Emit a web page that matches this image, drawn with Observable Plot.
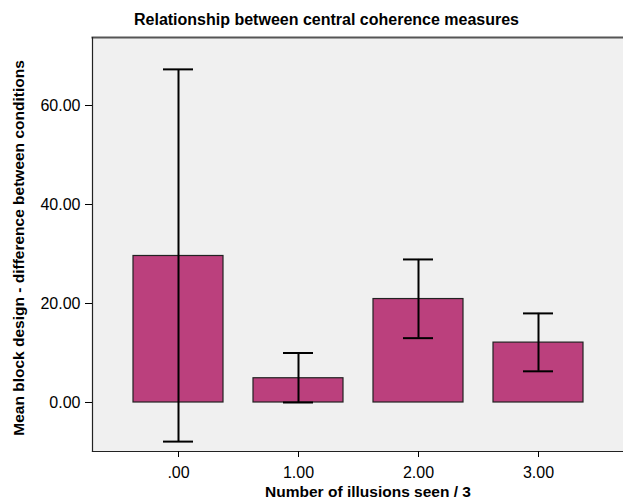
<!DOCTYPE html>
<html>
<head>
<meta charset="utf-8">
<script src="https://cdn.jsdelivr.net/npm/d3@7"></script>
<script src="https://cdn.jsdelivr.net/npm/@observablehq/plot@0.6"></script>
<style>
  html, body { margin: 0; padding: 0; background: #fff; }
  svg { display: block; }
</style>
</head>
<body>
<div id="chart"></div>
<script>
const categories = [".00", "1.00", "2.00", "3.00"];
const means = [29.6, 4.9, 20.9, 12.1];
const upper = [67.3, 10.0, 28.9, 18.0];
const lower = [-7.9, 0.0, 13.0, 6.3];
const yTicks = [0, 20, 40, 60];

const data = categories.map((c, i) => ({cat: c, mean: means[i], hi: upper[i], lo: lower[i]}));

const font = "'Liberation Sans', Arial, sans-serif";
const chart = Plot.plot({
  width: 623,
  height: 501,
  marginLeft: 92,
  marginRight: 0,
  marginTop: 37,
  marginBottom: 50,
  style: {fontFamily: font, fontSize: "16px", color: "#000", background: "#fff"},
  x: {domain: categories, paddingInner: 0.25, paddingOuter: 0.125, insetLeft: 26, insetRight: 25, label: null},
  y: {domain: [-9.9, 73.74], label: null},
  marks: [
    Plot.frame({fill: "#f0f0f0", stroke: "none"}),
    Plot.barY(data, {x: "cat", y: "mean", fill: "#bb407d", stroke: "#222", strokeWidth: 1.2}),
    Plot.ruleX(data, {x: "cat", y1: "lo", y2: "hi", stroke: "#000", strokeWidth: 2}),
    Plot.tickY(data, {x: "cat", y: "hi", stroke: "#000", strokeWidth: 2, insetLeft: 30, insetRight: 30}),
    Plot.tickY(data, {x: "cat", y: "lo", stroke: "#000", strokeWidth: 2, insetLeft: 30, insetRight: 30}),
    Plot.frame({anchor: "top", stroke: "#555", strokeWidth: 2}),
    Plot.frame({anchor: "left", stroke: "#222", strokeWidth: 1.2}),
    Plot.frame({anchor: "bottom", stroke: "#222", strokeWidth: 1.2}),
    Plot.axisY({ticks: yTicks, tickFormat: d3.format(".2f"), tickSize: 7, tickPadding: 5, fontSize: 16, label: null}),
    Plot.axisX({tickSize: 6, tickPadding: 9, fontSize: 16, label: null}),
    Plot.text(["Relationship between central coherence measures"], {frameAnchor: "top", dx: -31.5, dy: -18, lineAnchor: "middle", fontWeight: "bold", fontSize: 16, fill: "#000"}),
    Plot.text(["Number of illusions seen / 3"], {frameAnchor: "bottom", dx: 10, dy: 41, lineAnchor: "middle", fontWeight: "bold", fontSize: 15.5, fill: "#000"}),
    Plot.text(["Mean block design - difference between conditions"], {frameAnchor: "left", dx: -73.5, dy: 3.5, rotate: -90, textAnchor: "middle", lineAnchor: "middle", fontWeight: "bold", fontSize: 15.5, fill: "#000"})
  ]
});
document.getElementById("chart").appendChild(chart);
</script>
</body>
</html>
